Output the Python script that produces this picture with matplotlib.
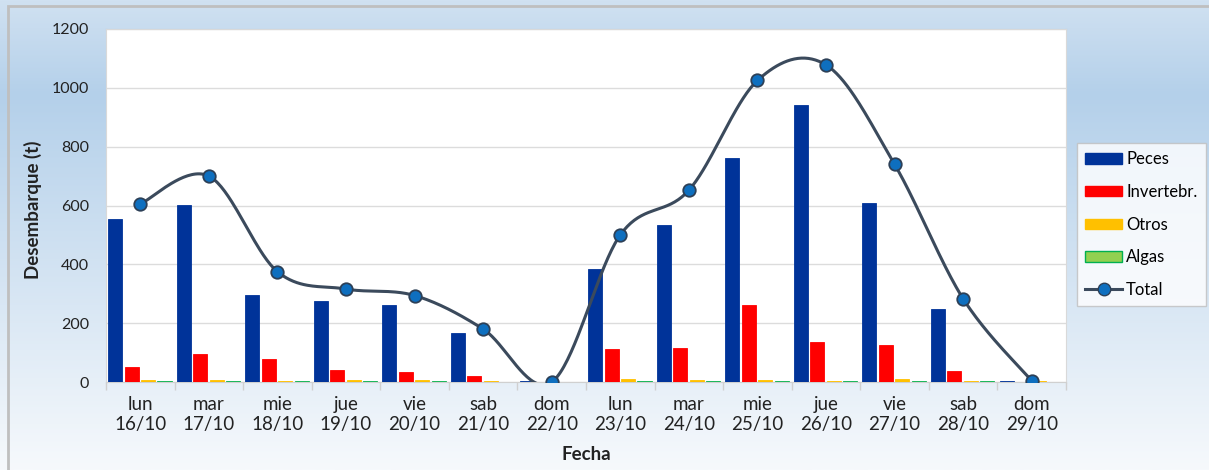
import numpy as np
import matplotlib
matplotlib.use('Agg')
import matplotlib.pyplot as plt
from matplotlib.colors import LinearSegmentedColormap
from matplotlib.patches import Rectangle, Patch
from matplotlib.lines import Line2D

plt.rcParams['font.family'] = ['Lato', 'DejaVu Sans']

# Datos
dias = ['lun\n16/10', 'mar\n17/10', 'mie\n18/10', 'jue\n19/10', 'vie\n20/10', 'sab\n21/10', 'dom\n22/10',
        'lun\n23/10', 'mar\n24/10', 'mie\n25/10', 'jue\n26/10', 'vie\n27/10', 'sab\n28/10', 'dom\n29/10']
peces = [554, 603, 296, 274, 261, 166, 2, 384, 534, 761, 941, 608, 247, 2]
invertebr = [50, 94, 77, 41, 34, 20, 0, 112, 116, 261, 136, 126, 37, 0]
otros = [7, 7, 2, 7, 7, 2, 0, 10, 7, 7, 2, 10, 2, 2]
algas = [2, 2, 2, 2, 2, 0, 0, 2, 2, 2, 2, 2, 2, 0]
total = [605, 700, 375, 316, 294, 180, 0, 500, 652, 1025, 1078, 740, 283, 4]

COLORES = {'Peces': '#003399', 'Invertebr.': '#ff0000', 'Otros': '#ffc000', 'Algas': '#92d050'}


def curva_suave(x, y, n=40):
    # suavizado tipo Excel (Bezier Catmull-Rom)
    x = np.asarray(x, float)
    y = np.asarray(y, float)
    px = np.concatenate([[x[0]], x, [x[-1]]])
    py = np.concatenate([[y[0]], y, [y[-1]]])
    xs, ys = [], []
    t = np.linspace(0, 1, n)
    for i in range(1, len(px) - 2):
        p0 = np.array([px[i], py[i]])
        p3 = np.array([px[i + 1], py[i + 1]])
        c1 = p0 + (p3 - np.array([px[i - 1], py[i - 1]])) / 6
        c2 = p3 - (np.array([px[i + 2], py[i + 2]]) - p0) / 6
        b = ((1 - t) ** 3)[:, None] * p0 + (3 * (1 - t) ** 2 * t)[:, None] * c1 \
            + (3 * (1 - t) * t ** 2)[:, None] * c2 + (t ** 3)[:, None] * p3
        xs.extend(b[:, 0])
        ys.extend(b[:, 1])
    return np.array(xs), np.array(ys)


fig = plt.figure(figsize=(12.09, 4.70), dpi=100)

# Fondo degradado
bg = fig.add_axes([0, 0, 1, 1], zorder=-10)
cmap = LinearSegmentedColormap.from_list('fondo', [(0, '#d0e1f1'), (0.2, '#b4d0ea'), (1, '#f6f9fc')])
bg.imshow(np.linspace(0, 1, 256)[:, None], aspect='auto', cmap=cmap, extent=[0, 1, 0, 1])
bg.add_patch(Rectangle((8 / 1209, -0.01), 1.0, 1 - 6 / 470 + 0.01, fill=False,
                       edgecolor='#bfbfbf', linewidth=2, transform=bg.transAxes))
bg.set_xlim(0, 1)
bg.set_ylim(0, 1)
bg.axis('off')

ax = fig.add_axes([106 / 1209, 1 - 382 / 470, 960 / 1209, 353 / 470])
ax.set_facecolor('white')

x = np.arange(len(dias))
w = 0.205
offs = [-0.367, -0.127, 0.113, 0.353]
series = [('Peces', peces), ('Invertebr.', invertebr), ('Otros', otros), ('Algas', algas)]
for (nombre, vals), off in zip(series, offs):
    edge = '#00b050' if nombre == 'Algas' else COLORES[nombre]
    ax.bar(x + off, vals, width=w, color=COLORES[nombre], edgecolor=edge, linewidth=0.6,
           label=nombre, zorder=3)

sx, sy = curva_suave(x, total)
ax.plot(sx, sy, color='#3b4a5c', linewidth=2.2, zorder=4)
ax.plot(x, total, linestyle='none', marker='o', markersize=9, markerfacecolor='#0e6fbf',
        markeredgecolor='#2d4057', markeredgewidth=1.3, zorder=5)

ax.set_xlim(-0.5, len(dias) - 0.5)
ax.set_ylim(0, 1200)
ax.set_yticks(range(0, 1201, 200))
ax.tick_params(axis='y', length=0, labelsize=11.5, pad=12, colors='#222222')
ax.set_xticks(x)
ax.set_xticklabels(dias, fontsize=13.5, color='#222222')
ax.tick_params(axis='x', which='major', length=0, pad=10)
ax.set_xticks(np.arange(-0.5, len(dias), 1), minor=True)
ax.tick_params(axis='x', which='minor', length=6, color='#d0d0d0', width=1)
ax.grid(axis='y', color='#dcdcdc', linewidth=1, zorder=0)
for s in ['top', 'right', 'left']:
    ax.spines[s].set_color('#d9d9d9')
ax.spines['bottom'].set_color('#d0d0d0')

fig.text(33 / 1209, 1 - 210 / 470, 'Desembarque (t)', rotation=90, ha='center', va='center',
         fontsize=13.5, fontweight='bold', color='#222222')
fig.text(586 / 1209, 1 - 455 / 470, 'Fecha', ha='center', va='center',
         fontsize=13.5, fontweight='bold', color='#222222')

handles = [Patch(facecolor=COLORES['Peces'], edgecolor=COLORES['Peces']),
           Patch(facecolor=COLORES['Invertebr.'], edgecolor=COLORES['Invertebr.']),
           Patch(facecolor=COLORES['Otros'], edgecolor=COLORES['Otros']),
           Patch(facecolor=COLORES['Algas'], edgecolor='#00b050'),
           Line2D([], [], color='#3b4a5c', linewidth=2.2, marker='o', markersize=9,
                  markerfacecolor='#0e6fbf', markeredgecolor='#2d4057')]
leg = fig.legend(handles, ['Peces', 'Invertebr.', 'Otros', 'Algas', 'Total'],
                 loc='upper left', bbox_to_anchor=(1077 / 1209, 1 - 143 / 470),
                 borderaxespad=0, fontsize=12, frameon=True, fancybox=False,
                 labelspacing=1.0, handlelength=2.2, handleheight=0.6, handletextpad=0.25,
                 borderpad=0.5)
leg.get_frame().set_edgecolor('#bfbfbf')
leg.get_frame().set_linewidth(1)

fig.savefig('out.png', dpi=100)
